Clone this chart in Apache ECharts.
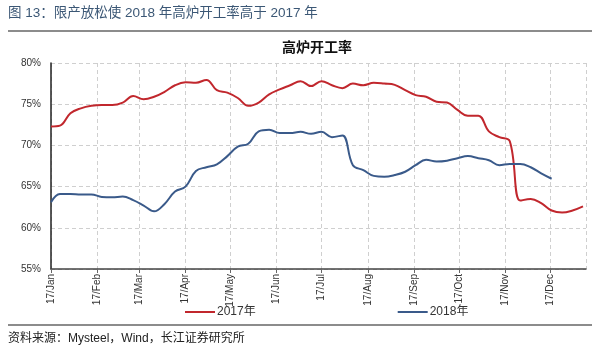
<!DOCTYPE html>
<html>
<head>
<meta charset="utf-8">
<script src="https://cdn.jsdelivr.net/npm/echarts@6/dist/echarts.min.js"></script>
<style>
html, body { margin: 0; padding: 0; background: #fff; }
#main { width: 600px; height: 353px; }
</style>
</head>
<body>
<div id="main"></div>
<script>
// weekly dates (2018 values are placed on the same day of the year)
var dates = [
	'2017-01-01', '2017-01-07', '2017-01-14', '2017-01-21', '2017-01-28',
	'2017-02-04', '2017-02-11', '2017-02-18', '2017-02-25',
	'2017-03-04', '2017-03-11', '2017-03-18', '2017-03-25',
	'2017-04-01', '2017-04-08', '2017-04-15', '2017-04-22', '2017-04-29',
	'2017-05-06', '2017-05-13', '2017-05-20', '2017-05-27',
	'2017-06-03', '2017-06-10', '2017-06-17', '2017-06-24',
	'2017-07-01', '2017-07-08', '2017-07-15', '2017-07-22', '2017-07-29',
	'2017-08-05', '2017-08-12', '2017-08-19', '2017-08-26',
	'2017-09-02', '2017-09-09', '2017-09-16', '2017-09-23', '2017-09-30',
	'2017-10-07', '2017-10-14', '2017-10-21', '2017-10-28',
	'2017-11-04', '2017-11-11', '2017-11-18', '2017-11-25',
	'2017-12-02', '2017-12-09', '2017-12-16', '2017-12-23'
]
var rate2017 = [
	72.3, 72.4, 73.9, 74.5, 74.8, 74.9, 74.9, 75.2, 76.0, 75.6,
	75.9, 76.5, 77.3, 77.65, 77.6, 77.95, 76.7, 76.4, 75.75, 74.8,
	75.2, 76.2, 76.8, 77.3, 77.8, 77.2, 77.8, 77.3, 76.95, 77.5,
	77.3, 77.6, 77.5, 77.35, 76.7, 76.1, 75.9, 75.3, 75.2, 74.3,
	73.6, 73.6, 71.7, 71.0, 70.5, 63.3, 63.5, 63.0, 62.1, 61.85,
	62.1, 62.6
]
var rate2018 = [
	63.1, 64.1, 64.1, 64.05, 64.05, 63.75, 63.7, 63.8, 63.35, 62.7,
	62.0, 62.9, 64.4, 65.0, 66.9, 67.35, 67.7, 68.7, 69.85, 70.2,
	71.7, 71.9, 71.5, 71.5, 71.65, 71.4, 71.65, 71.0, 71.2, 67.6,
	67.0, 66.3, 66.2, 66.4, 66.8, 67.6, 68.25, 68.05, 68.15, 68.45,
	68.7, 68.45, 68.2, 67.6, 67.75, 67.75, 67.35, 66.6, 65.95
]
var seriesNames = ['2017年', '2018年']
var monthNames = ['Jan', 'Feb', 'Mar', 'Apr', 'May', 'Jun', 'Jul', 'Aug', 'Sep', 'Oct', 'Nov', 'Dec']

function pairs(vals) {
	var out = []
	for (var i = 0; i < vals.length; i++) {
		out.push([dates[i], vals[i]])
	}
	return out
}

var font = '"Liberation Sans", Arial, "Noto Sans CJK SC", sans-serif'
var dom = echarts.init(document.getElementById('main'))
var option = {
	animation: false,
	backgroundColor: '#fff',
	textStyle: { fontFamily: font },
	title: {
		text: '高炉开工率',
		left: 312,
		textAlign: 'center',
		top: 36,
		textStyle: { fontSize: 14, fontWeight: 'bold', color: '#111', fontFamily: font }
	},
	graphic: [
		{
			type: 'text', left: 8, top: 7,
			style: { text: '图 13：限产放松使 2018 年高炉开工率高于 2017 年', fontSize: 13.5, fill: '#3b5775', fontFamily: font }
		},
		{
			type: 'rect', shape: { x: 8, y: 30, width: 584, height: 2 },
			style: { fill: '#8c8c8c' }
		},
		{
			type: 'rect', shape: { x: 8, y: 324, width: 584, height: 2 },
			style: { fill: '#8c8c8c' }
		},
		{
			type: 'text', left: 8, top: 333,
			style: { text: '资料来源：Mysteel，Wind，长江证券研究所', fontSize: 12, fill: '#222', fontFamily: font }
		}
	],
	legend: {
		data: seriesNames,
		left: 180,
		top: 301,
		icon: 'rect',
		itemWidth: 30,
		itemHeight: 2,
		itemGap: 142,
		textStyle: { fontSize: 12, color: '#333', padding: [0, 0, 0, -3] }
	},
	grid: {
		left: 51,
		right: 14,
		top: 63,
		bottom: 84
	},
	xAxis: {
		type: 'time',
		min: '2017-01-01',
		max: '2017-12-25',
		splitNumber: 12,
		minInterval: 28 * 86400000,
		maxInterval: 31 * 86400000,
		axisLine: { lineStyle: { color: '#444', width: 1.5 } },
		axisTick: { show: true, length: 4, lineStyle: { color: '#666' } },
		axisLabel: {
			rotate: 90,
			fontSize: 10,
			color: '#333',
			margin: 5,
			hideOverlap: false,
			formatter: function (v) {
				var d = new Date(v)
				return '17/' + monthNames[d.getMonth()]
			}
		},
		splitLine: { show: true, lineStyle: { color: '#cfcfcf', type: [4, 3] } }
	},
	yAxis: {
		type: 'value',
		min: 55,
		max: 80,
		interval: 5,
		axisLine: { show: true, lineStyle: { color: '#222', width: 1.5 } },
		axisTick: { show: false },
		axisLabel: { fontSize: 10, color: '#333', margin: 10, formatter: '{value}%' },
		splitLine: { lineStyle: { color: '#cfcfcf', type: [4, 3] } }
	},
	series: [
		{
			name: seriesNames[0],
			type: 'line',
			data: pairs(rate2017),
			smooth: 0.4,
			showSymbol: false,
			color: '#c1272d',
			lineStyle: { width: 2, color: '#c1272d' }
		},
		{
			name: seriesNames[1],
			type: 'line',
			data: pairs(rate2018),
			smooth: 0.4,
			showSymbol: false,
			color: '#3a5a8a',
			lineStyle: { width: 2, color: '#3a5a8a' }
		}
	]
}
dom.setOption(option)
window.addEventListener('resize', function () { dom.resize() })
</script>
</body>
</html>
